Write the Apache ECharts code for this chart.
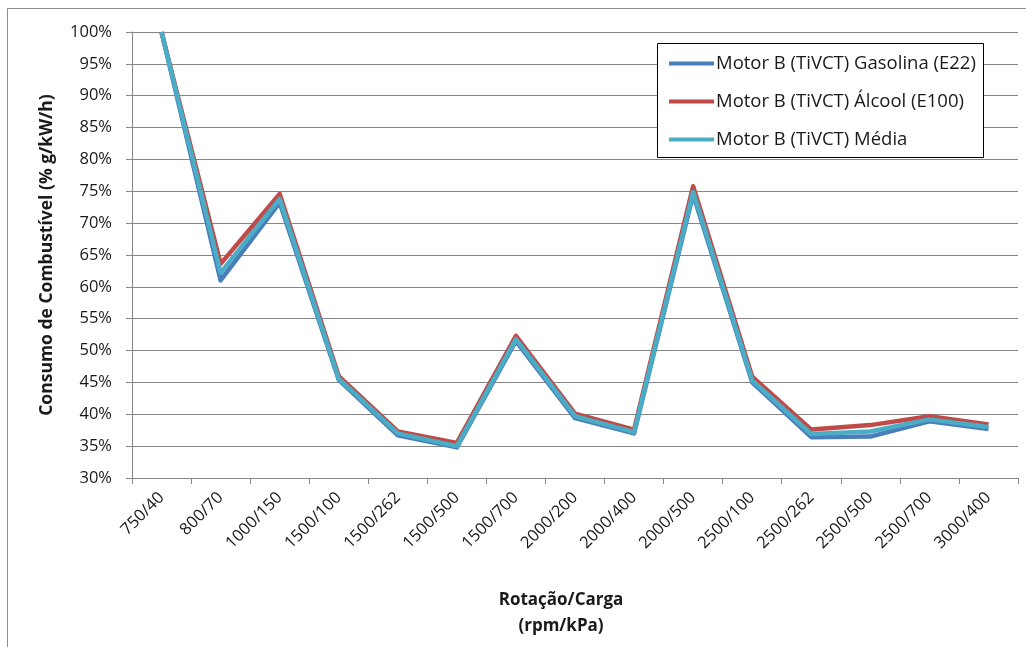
<!DOCTYPE html>
<html>
<head>
<meta charset="utf-8">
<script src="https://cdn.jsdelivr.net/npm/echarts@6/dist/echarts.min.js"></script>
<style>
  html, body { margin: 0; padding: 0; background: #fff; overflow: hidden; }
  #chart { position: absolute; left: 0; top: 0; width: 1026px; height: 647px; }
</style>
</head>
<body>
<div id="chart"></div>
<script>
// Operating points (rotação/carga)
var categories = ['750/40', '800/70', '1000/150', '1500/100', '1500/262', '1500/500', '1500/700',
  '2000/200', '2000/400', '2000/500', '2500/100', '2500/262', '2500/500', '2500/700', '3000/400'];

// Consumo relativo (% g/kW/h)
var gasolina = [100, 61.0, 73.2, 45.4, 36.7, 34.8, 51.5, 39.4, 37.0, 74.5, 45.0, 36.4, 36.5, 38.9, 37.7];
var alcool   = [100, 63.6, 74.6, 46.0, 37.3, 35.5, 52.3, 40.1, 37.6, 75.8, 45.9, 37.6, 38.3, 39.7, 38.4];
var media    = [100, 62.2, 73.8, 45.6, 37.0, 35.0, 51.8, 39.7, 37.2, 74.9, 45.3, 36.9, 37.3, 39.2, 38.0];

var yTicks = { min: 30, max: 100, step: 5 };

var seriesNames = ['Motor B (TiVCT) Gasolina (E22)', 'Motor B (TiVCT) Álcool (E100)', 'Motor B (TiVCT) Média'];
var seriesColors = ['#4a7ebb', '#be4b48', '#4bacc6'];

var font = '"Open Sans", "Liberation Sans", sans-serif';

var chart = echarts.init(document.getElementById('chart'));

function lineSeries(name, data, color, z) {
  return {
    name: name,
    type: 'line',
    data: data,
    symbol: 'none',
    z: z,
    lineStyle: { color: color, width: 4.5, join: 'round' },
    itemStyle: { color: color },
    animation: false
  };
}

chart.setOption({
  animation: false,
  backgroundColor: '#fff',
  textStyle: { fontFamily: font },
  grid: { left: 132, top: 32, right: 8, bottom: 169, containLabel: false },
  graphic: [
    {
      type: 'rect',
      shape: { x: 7.5, y: 8.5, width: 1040, height: 700 },
      style: { fill: 'none', stroke: '#8c8c8c', lineWidth: 1 },
      silent: true,
      z: 0
    },
    {
      type: 'rect',
      shape: { x: 657.5, y: 43.5, width: 326, height: 114 },
      style: { fill: '#fff', stroke: '#000', lineWidth: 1 },
      z: 5
    }
  ],
  legend: {
    orient: 'vertical',
    left: 664,
    top: 48,
    z: 6,
    itemWidth: 45,
    itemHeight: 4,
    itemGap: 17,
    icon: 'rect',
    data: seriesNames,
    textStyle: { fontFamily: font, fontSize: 18.5, color: '#1a1a1a', padding: [0, 0, 0, -3], lineHeight: 21 }
  },
  xAxis: {
    type: 'category',
    data: categories,
    boundaryGap: true,
    name: 'Rotação/Carga\n(rpm/kPa)',
    nameLocation: 'middle',
    nameGap: 109,
    nameTextStyle: { fontFamily: font, fontSize: 17, fontWeight: 'bold', color: '#1a1a1a', lineHeight: 26, padding: [0, 28, 0, 0] },
    axisLine: { lineStyle: { color: '#868686', width: 1 } },
    axisTick: { show: true, length: 6, alignWithLabel: false, lineStyle: { color: '#868686' } },
    axisLabel: { rotate: 45, fontSize: 16.5, color: '#1a1a1a', margin: 17, interval: 0 },
    splitLine: { show: false }
  },
  yAxis: {
    type: 'value',
    min: yTicks.min,
    max: yTicks.max,
    interval: yTicks.step,
    name: 'Consumo de Combustível (% g/kW/h)',
    nameLocation: 'middle',
    nameRotate: 90,
    nameGap: 76,
    nameTextStyle: { fontFamily: font, fontSize: 17.5, fontWeight: 'bold', color: '#1a1a1a' },
    axisLine: { show: true, lineStyle: { color: '#868686', width: 1 } },
    axisTick: { show: true, length: 6, lineStyle: { color: '#868686' } },
    axisLabel: { fontSize: 16.5, color: '#1a1a1a', margin: 20, formatter: '{value}%' },
    splitLine: { show: true, lineStyle: { color: '#868686', width: 1 } }
  },
  series: [
    lineSeries(seriesNames[0], gasolina, seriesColors[0], 2),
    lineSeries(seriesNames[1], alcool, seriesColors[1], 3),
    lineSeries(seriesNames[2], media, seriesColors[2], 4)
  ]
});
</script>
</body>
</html>
